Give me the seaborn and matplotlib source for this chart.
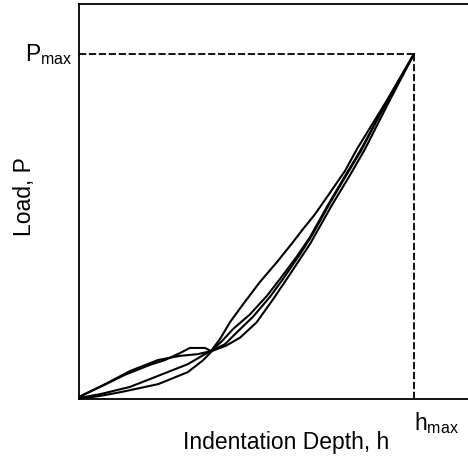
import matplotlib
matplotlib.use("Agg")
import matplotlib.pyplot as plt
import seaborn as sns
import pandas as pd

# Normalised loading curves: depth h/hmax, load P/Pmax
curve1_h = [0, 0.063, 0.137, 0.212, 0.257, 0.301, 0.331, 0.376, 0.394, 0.427, 0.460, 0.510, 0.561, 0.600, 0.651, 0.690, 0.743, 0.794, 0.839, 0.919, 1.0]
curve1_p = [0.006, 0.035, 0.070, 0.099, 0.113, 0.133, 0.148, 0.148, 0.139, 0.168, 0.203, 0.245, 0.299, 0.348, 0.414, 0.470, 0.562, 0.646, 0.719, 0.861, 1.0]

curve2_h = [0, 0.078, 0.152, 0.236, 0.301, 0.355, 0.394, 0.421, 0.451, 0.490, 0.540, 0.591, 0.639, 0.669, 0.704, 0.740, 0.794, 0.830, 0.922, 1.0]
curve2_p = [0.006, 0.043, 0.081, 0.113, 0.125, 0.130, 0.139, 0.174, 0.223, 0.275, 0.339, 0.397, 0.455, 0.493, 0.535, 0.585, 0.661, 0.725, 0.870, 1.0]

curve3_h = [0, 0.063, 0.152, 0.236, 0.325, 0.376, 0.394, 0.436, 0.472, 0.519, 0.570, 0.609, 0.660, 0.696, 0.749, 0.800, 0.845, 0.919, 1.0]
curve3_p = [0.003, 0.014, 0.035, 0.067, 0.101, 0.130, 0.139, 0.159, 0.194, 0.238, 0.296, 0.348, 0.420, 0.475, 0.568, 0.652, 0.725, 0.864, 1.0]

curve4_h = [0, 0.063, 0.125, 0.236, 0.325, 0.370, 0.397, 0.440, 0.481, 0.530, 0.580, 0.630, 0.690, 0.755, 0.809, 0.854, 0.925, 1.0]
curve4_p = [0, 0.009, 0.020, 0.043, 0.078, 0.112, 0.139, 0.155, 0.178, 0.222, 0.290, 0.362, 0.450, 0.562, 0.649, 0.725, 0.861, 1.0]

h_max = 1.0
p_max = 1.0
x_label = "Indentation Depth, h"
y_label = "Load, P"

frames = []
for name, hs, ps in [("c1", curve1_h, curve1_p), ("c2", curve2_h, curve2_p),
                     ("c3", curve3_h, curve3_p), ("c4", curve4_h, curve4_p)]:
    frames.append(pd.DataFrame({"h": hs, "P": ps, "curve": name}))
df = pd.concat(frames, ignore_index=True)

sns.set_theme(style="white")
plt.rcParams["font.family"] = ["Liberation Sans", "DejaVu Sans"]
plt.rcParams["mathtext.fontset"] = "custom"
plt.rcParams["mathtext.rm"] = "Liberation Sans"

W, H = 468, 477
fig = plt.figure(figsize=(W / 100, H / 100), dpi=100)
ax = fig.add_axes([79 / W, 1 - 400 / H, (468 - 79) / W, 395 / H])

sns.lineplot(data=df, x="h", y="P", units="curve", estimator=None, sort=False,
             color="black", linewidth=1.5, ax=ax)

ax.plot([0, h_max], [p_max, p_max], color="black", lw=1.3, linestyle=(0, (4, 1.5)))
ax.plot([h_max, h_max], [0, p_max], color="black", lw=1.3, linestyle=(0, (4, 1.5)))

ax.set_xlim(0, 389 / 335 * h_max)
ax.set_ylim(0, 395 / 345 * p_max)
ax.set_xticks([])
ax.set_yticks([])
ax.set_xlabel("")
ax.set_ylabel("")
for side in ["left", "bottom", "top"]:
    ax.spines[side].set_visible(True)
    ax.spines[side].set_color("black")
    ax.spines[side].set_linewidth(1.3)
ax.spines["right"].set_visible(False)

fs = 16.5
ax.text(-0.016, p_max, r"P$_{\mathregular{max}}$", transform=ax.get_yaxis_transform(),
        ha="right", va="center", fontsize=fs, color="black")
ax.text(h_max, -0.077, r"h$_{\mathregular{max}}$", transform=ax.get_xaxis_transform(),
        ha="left", va="baseline", fontsize=fs, color="black")

fig.text(286 / W, 1 - 449 / H, x_label, ha="center", va="baseline", fontsize=fs, color="black")
fig.text(24 / W, 1 - 197 / H, y_label, ha="center", va="center", rotation=90,
         fontsize=fs, color="black")

fig.savefig("out.png", dpi=100, facecolor="white")
